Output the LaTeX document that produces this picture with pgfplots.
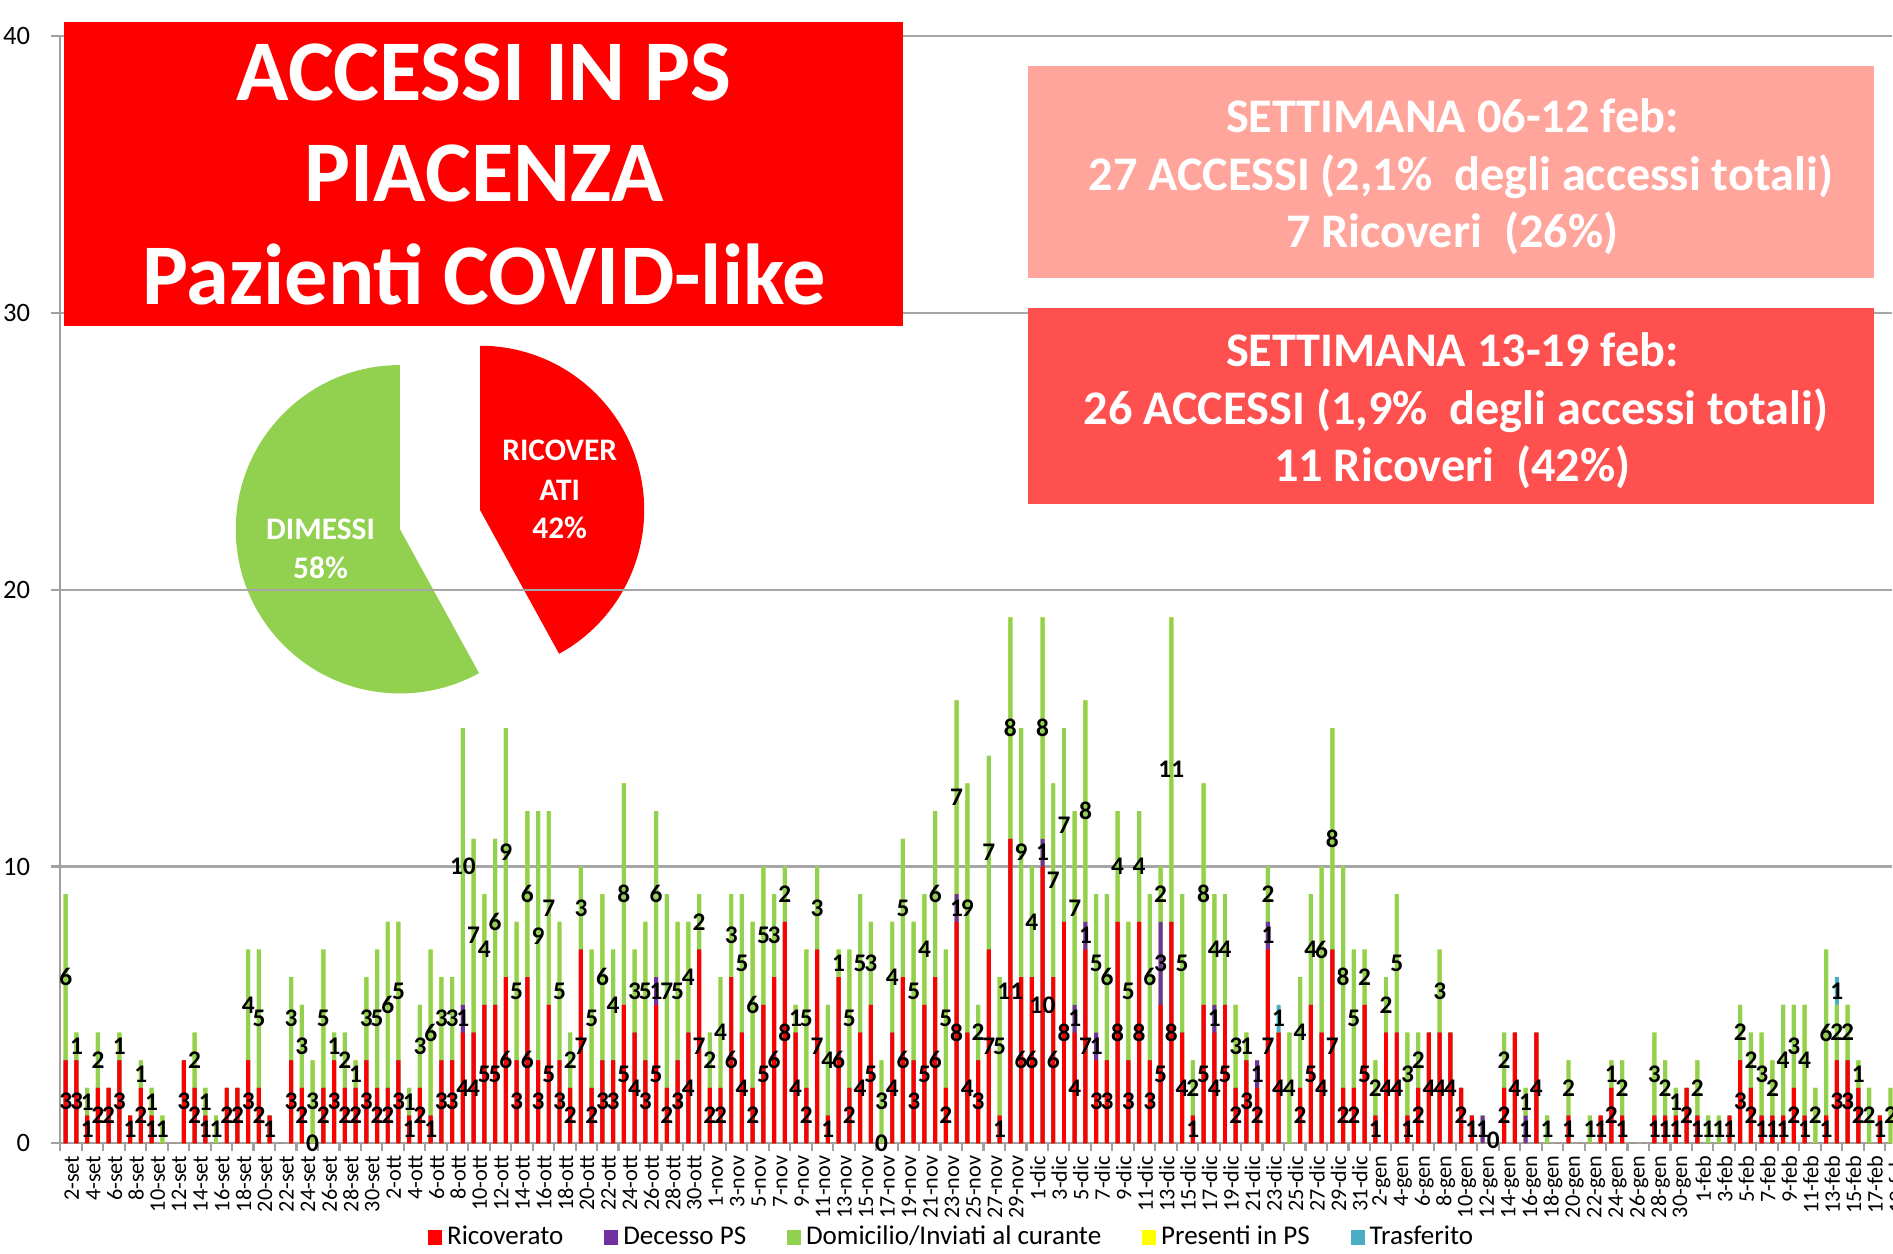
\documentclass[border=0pt]{standalone}
\usepackage{pgfplots}
\usepackage{pgfplotstable}
\pgfplotsset{compat=1.18}
\usepackage{fontspec}
\setmainfont{Carlito}

\definecolor{cRic}{HTML}{FF0000}
\definecolor{cDec}{HTML}{7030A0}
\definecolor{cDom}{HTML}{92D050}
\definecolor{cPre}{HTML}{FFFF00}
\definecolor{cTra}{HTML}{4BACC6}
\definecolor{boxA}{HTML}{FFA59C}
\definecolor{boxB}{HTML}{FF5050}
\definecolor{gridc}{HTML}{A6A6A6}
\definecolor{axisc}{HTML}{A0A0A0}

\pgfplotsset{
  sqlegend/.style={legend image code/.code={\fill[##1] (0pt,-3.1pt) rectangle (5.8pt,3.1pt);}},
  seg/.style={ybar, bar width=0.37, bar shift=0pt, draw=none, fill=#1, forget plot},
  lab/.style={draw=none, mark=none, forget plot, point meta=explicit,
    nodes near coords={\pgfmathfloatifflags{\pgfplotspointmeta}{0}{}{\pgfmathprintnumber{\pgfplotspointmeta}}},
    every node near coord/.append style={anchor=center, font=\bfseries\fontsize{10.5}{11}\selectfont, inner sep=0pt, text=black}},
  zlab/.style={draw=none, mark=none, forget plot, point meta=explicit,
    nodes near coords={\pgfmathprintnumber{\pgfplotspointmeta}},
    every node near coord/.append style={anchor=center, font=\bfseries\fontsize{10.5}{11}\selectfont, inner sep=0pt, text=black}},
}

% i = day index from 2 Sep; r = Ricoverato, d = Decesso PS, g = Domicilio, p = Presenti in PS, t = Trasferito
\pgfplotstableread{
i r d g p t
0 3 0 6 0 0
1 3 0 1 0 0
2 1 0 1 0 0
3 2 0 2 0 0
4 2 0 0 0 0
5 3 0 1 0 0
6 1 0 0 0 0
7 2 0 1 0 0
8 1 0 1 0 0
9 0 0 1 0 0
10 0 0 0 0 0
11 3 0 0 0 0
12 2 0 2 0 0
13 1 0 1 0 0
14 0 0 1 0 0
15 2 0 0 0 0
16 2 0 0 0 0
17 3 0 4 0 0
18 2 0 5 0 0
19 1 0 0 0 0
20 0 0 0 0 0
21 3 0 3 0 0
22 2 0 3 0 0
23 0 0 3 0 0
24 2 0 5 0 0
25 3 0 1 0 0
26 2 0 2 0 0
27 2 0 1 0 0
28 3 0 3 0 0
29 2 0 5 0 0
30 2 0 6 0 0
31 3 0 5 0 0
32 1 0 1 0 0
33 2 0 3 0 0
34 1 0 6 0 0
35 3 0 3 0 0
36 3 0 3 0 0
37 4 1 10 0 0
38 4 0 7 0 0
39 5 0 4 0 0
40 5 0 6 0 0
41 6 0 9 0 0
42 3 0 5 0 0
43 6 0 6 0 0
44 3 0 9 0 0
45 5 0 7 0 0
46 3 0 5 0 0
47 2 0 2 0 0
48 7 0 3 0 0
49 2 0 5 0 0
50 3 0 6 0 0
51 3 0 4 0 0
52 5 0 8 0 0
53 4 0 3 0 0
54 3 0 5 0 0
55 5 1 6 0 0
56 2 0 7 0 0
57 3 0 5 0 0
58 4 0 4 0 0
59 7 0 2 0 0
60 2 0 2 0 0
61 2 0 4 0 0
62 6 0 3 0 0
63 4 0 5 0 0
64 2 0 6 0 0
65 5 0 5 0 0
66 6 0 3 0 0
67 8 0 2 0 0
68 4 0 1 0 0
69 2 0 5 0 0
70 7 0 3 0 0
71 1 0 4 0 0
72 6 0 1 0 0
73 2 0 5 0 0
74 4 0 5 0 0
75 5 0 3 0 0
76 0 0 3 0 0
77 4 0 4 0 0
78 6 0 5 0 0
79 3 0 5 0 0
80 5 0 4 0 0
81 6 0 6 0 0
82 2 0 5 0 0
83 8 1 7 0 0
84 4 0 9 0 0
85 3 0 2 0 0
86 7 0 7 0 0
87 1 0 5 0 0
88 11 0 8 0 0
89 6 0 9 0 0
90 6 0 4 0 0
91 10 1 8 0 0
92 6 0 7 0 0
93 8 0 7 0 0
94 4 1 7 0 0
95 7 1 8 0 0
96 3 1 5 0 0
97 3 0 6 0 0
98 8 0 4 0 0
99 3 0 5 0 0
100 8 0 4 0 0
101 3 0 6 0 0
102 5 3 2 0 0
103 8 0 11 0 0
104 4 0 5 0 0
105 1 0 2 0 0
106 5 0 8 0 0
107 4 1 4 0 0
108 5 0 4 0 0
109 2 0 3 0 0
110 3 0 1 0 0
111 2 1 0 0 0
112 7 1 2 0 0
113 4 0 0 0 1
114 0 0 4 0 0
115 2 0 4 0 0
116 5 0 4 0 0
117 4 0 6 0 0
118 7 0 8 0 0
119 2 0 8 0 0
120 2 0 5 0 0
121 5 0 2 0 0
122 1 0 2 0 0
123 4 0 2 0 0
124 4 0 5 0 0
125 1 0 3 0 0
126 2 0 2 0 0
127 4 0 0 0 0
128 4 0 3 0 0
129 4 0 0 0 0
130 2 0 0 0 0
131 1 0 0 0 0
132 0 1 0 0 0
133 0 0 0 0 0
134 2 0 2 0 0
135 4 0 0 0 0
136 0 1 1 0 0
137 4 0 0 0 0
138 0 0 1 0 0
139 0 0 0 0 0
140 1 0 2 0 0
141 0 0 0 0 0
142 0 0 1 0 0
143 1 0 0 0 0
144 2 0 1 0 0
145 1 0 2 0 0
146 0 0 0 0 0
147 0 0 0 0 0
148 1 0 3 0 0
149 1 0 2 0 0
150 1 0 1 0 0
151 2 0 0 0 0
152 1 0 2 0 0
153 0 0 1 0 0
154 0 0 1 0 0
155 1 0 0 0 0
156 3 0 2 0 0
157 2 0 2 0 0
158 1 0 3 0 0
159 1 0 2 0 0
160 1 0 4 0 0
161 2 0 3 0 0
162 1 0 4 0 0
163 0 0 2 0 0
164 1 0 6 0 0
165 3 0 2 0 1
166 3 0 2 0 0
167 2 0 1 0 0
168 0 0 2 0 0
169 1 0 0 0 0
170 0 0 2 0 0
}\data

\def\pctRic{42}

\begin{document}
\begin{tikzpicture}
% frame of the picture
\useasboundingbox (-25pt,-45.5pt) rectangle (759pt,473.5pt);

% pie (behind the grid)
\pgfmathsetmacro{\angEnd}{90-3.6*\pctRic}
\pgfmathsetmacro{\angEndG}{\angEnd+360}
\fill[cRic] (173.8pt,262.3pt) -- ++(90:68pt) arc[start angle=90, end angle=\angEnd, radius=68pt] -- cycle;
\fill[cDom] (140.65pt,254.3pt) -- ++(90:68pt) arc[start angle=90, end angle=\angEndG, radius=68pt] -- cycle;
\begin{scope}[every node/.style={text=white, font=\bfseries\fontsize{13}{15}\selectfont, anchor=base, inner sep=0pt}]
\node at (206.8pt,282.7pt) {RICOVER};
\node at (206.8pt,266.2pt) {ATI};
\node at (206.8pt,250.3pt) {42\%};
\node at (107.75pt,250.2pt) {DIMESSI};
\node at (107.75pt,234pt) {58\%};
\end{scope}

\begin{axis}[
  at={(0pt,0pt)}, anchor=south west,
  scale only axis, width=758.4pt, height=458.5pt,
  xmin=-0.5, xmax=170.1, ymin=0, ymax=40,
  clip=false,
  axis x line*=bottom, axis y line*=left,
  axis line style={draw=axisc, line width=0.9pt},
  tick align=outside,
  ytick={0,10,20,30,40},
  major tick length=4pt, minor tick length=3pt,
  tick style={draw=axisc, line width=0.9pt},
  major x tick style={draw=none},
  ymajorgrids, grid style={draw=gridc, line width=0.9pt},
  xtick={0,2,...,170},
  minor xtick={-0.5,1.5,...,169.5},
  xticklabels={2-set,4-set,6-set,8-set,10-set,12-set,14-set,16-set,18-set,20-set,22-set,24-set,26-set,28-set,30-set,
    2-ott,4-ott,6-ott,8-ott,10-ott,12-ott,14-ott,16-ott,18-ott,20-ott,22-ott,24-ott,26-ott,28-ott,30-ott,
    1-nov,3-nov,5-nov,7-nov,9-nov,11-nov,13-nov,15-nov,17-nov,19-nov,21-nov,23-nov,25-nov,27-nov,29-nov,
    1-dic,3-dic,5-dic,7-dic,9-dic,11-dic,13-dic,15-dic,17-dic,19-dic,21-dic,23-dic,25-dic,27-dic,29-dic,31-dic,
    2-gen,4-gen,6-gen,8-gen,10-gen,12-gen,14-gen,16-gen,18-gen,20-gen,22-gen,24-gen,26-gen,28-gen,30-gen,
    1-feb,3-feb,5-feb,7-feb,9-feb,11-feb,13-feb,15-feb,17-feb,19-feb},
  xticklabel style={rotate=90, anchor=east, font=\fontsize{9.2}{10}\selectfont, inner sep=1pt, yshift=-2.5pt},
  yticklabel style={font=\fontsize{11}{12}\selectfont, xshift=-5pt},
  /pgf/number format/assume math mode=true,
  legend style={at={(0.4875,-0.085)}, anchor=center, draw=none, fill=none,
    legend columns=-1, font=\fontsize{11.2}{13}\selectfont,
    /tikz/every even column/.append style={column sep=15pt}},
]
% stacked bars, drawn as cumulative heights from the top segment down
\addplot[seg=cTra] table[x=i, y expr=\thisrow{r}+\thisrow{d}+\thisrow{g}+\thisrow{p}+\thisrow{t}] {\data};
\addplot[seg=cPre] table[x=i, y expr=\thisrow{r}+\thisrow{d}+\thisrow{g}+\thisrow{p}] {\data};
\addplot[seg=cDom] table[x=i, y expr=\thisrow{r}+\thisrow{d}+\thisrow{g}] {\data};
\addplot[seg=cDec] table[x=i, y expr=\thisrow{r}+\thisrow{d}] {\data};
\addplot[seg=cRic] table[x=i, y=r] {\data};
% segment labels, centred in each segment
\addplot[lab] table[x=i, y expr=\thisrow{r}/2, meta=r] {\data};
\addplot[lab] table[x=i, y expr=\thisrow{r}+\thisrow{d}/2, meta=d] {\data};
\addplot[lab] table[x=i, y expr=\thisrow{r}+\thisrow{d}+\thisrow{g}/2, meta=g] {\data};
\addplot[lab] table[x=i, y expr=\thisrow{r}+\thisrow{d}+\thisrow{g}+\thisrow{p}/2, meta=p] {\data};
\addplot[lab] table[x=i, y expr=\thisrow{r}+\thisrow{d}+\thisrow{g}+\thisrow{p}+\thisrow{t}/2, meta=t] {\data};
% zero labels shown in the original (25-set, 17-nov, 13-gen)
\addplot[zlab] coordinates {(23,0) [0] (76,0) [0] (133,0.1) [0]};
% legend
\addlegendimage{fill=cRic, draw=none, sqlegend}
\addlegendentry{Ricoverato}
\addlegendimage{fill=cDec, draw=none, sqlegend}
\addlegendentry{Decesso PS}
\addlegendimage{fill=cDom, draw=none, sqlegend}
\addlegendentry{Domicilio/Inviati al curante}
\addlegendimage{fill=cPre, draw=none, sqlegend}
\addlegendentry{Presenti in PS}
\addlegendimage{fill=cTra, draw=none, sqlegend}
\addlegendentry{Trasferito}
\end{axis}

% title box
\fill[cRic] (1.5pt,338.5pt) rectangle (349pt,464.5pt);
\begin{scope}[every node/.style={text=white, font=\bfseries\fontsize{35.8}{37}\selectfont, anchor=base, inner sep=0pt}]
\node at (175.5pt,432pt) {ACCESSI IN PS};
\node at (175.5pt,390pt) {PIACENZA};
\node at (175.5pt,347.5pt) {Pazienti COVID-like};
\end{scope}

% weekly boxes
\fill[boxA] (400.9pt,358.5pt) rectangle (751pt,446.2pt);
\fill[boxB] (400.9pt,264.8pt) rectangle (751pt,345.8pt);
\begin{scope}[every node/.style={text=white, font=\bfseries\fontsize{20}{22}\selectfont, anchor=base, inner sep=0pt}]
\node at (576.5pt,418.5pt) {SETTIMANA 06-12 feb:};
\node at (580pt,394.8pt) {27 ACCESSI (2,1\%\ \ degli accessi totali)};
\node at (576.5pt,371pt) {7 Ricoveri\ \ (26\%)};
\node at (576.5pt,321.6pt) {SETTIMANA 13-19 feb:};
\node at (578pt,297.5pt) {26 ACCESSI (1,9\%\ \ degli accessi totali)};
\node at (576.5pt,274pt) {11 Ricoveri\ \ (42\%)};
\end{scope}
\end{tikzpicture}
\end{document}
